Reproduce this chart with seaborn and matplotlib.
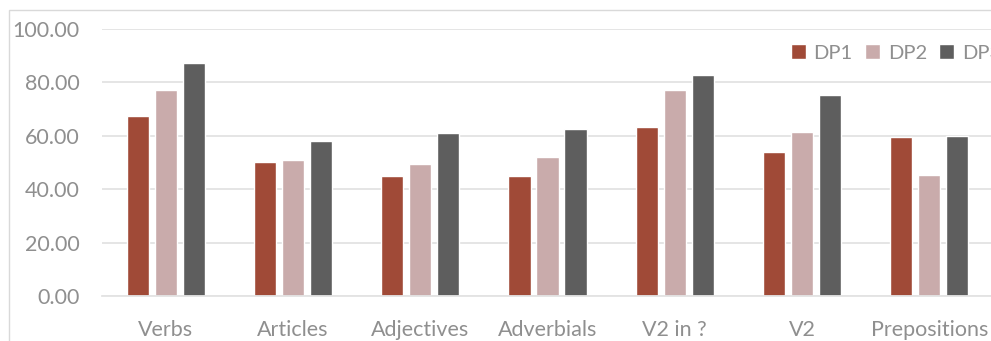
import matplotlib
matplotlib.use("Agg")
import matplotlib.pyplot as plt
from matplotlib.patches import Rectangle
from matplotlib.ticker import FormatStrFormatter
import pandas as pd
import seaborn as sns

categories = ["Verbs", "Articles", "Adjectives", "Adverbials", "V2 in ?", "V2", "Prepositions"]
dp1 = [67.4, 50.2, 45.1, 45.1, 63.4, 53.9, 59.7]
dp2 = [77.2, 50.9, 49.4, 51.9, 77.3, 61.4, 45.4]
dp3 = [87.4, 58.2, 60.9, 62.5, 82.7, 75.4, 59.9]
series_names = ["DP1", "DP2", "DP3"]
series_colors = ["#A04A37", "#C9ABAB", "#5E5E5E"]
y_ticks = [0, 20, 40, 60, 80, 100]

rows = []
for name, vals in zip(series_names, [dp1, dp2, dp3]):
    for cat, v in zip(categories, vals):
        rows.append({"category": cat, "series": name, "value": v})
df = pd.DataFrame(rows)

sns.set_theme(style="white")
plt.rcParams["font.family"] = ["Lato", "DejaVu Sans"]

text_color = "#8F8F8F"
grid_color = "#E3E3E3"
font_size = 15.5

W, H = 991, 341
fig = plt.figure(figsize=(W / 100, H / 100), dpi=100)
ax = fig.add_axes([102 / W, 45 / H, 891 / W, 267 / H])

sns.barplot(data=df, x="category", y="value", hue="series", order=categories,
            hue_order=series_names, palette=series_colors, width=0.66, gap=0.21,
            errorbar=None, saturation=1, ax=ax)

ax.set_ylim(0, 100)
ax.set_xlim(-0.5, len(categories) - 0.5)
ax.set_yticks(y_ticks)
ax.yaxis.set_major_formatter(FormatStrFormatter("%.2f"))
ax.grid(axis="y", color=grid_color, linewidth=1.3)
ax.set_axisbelow(True)
for s in ["top", "right", "left"]:
    ax.spines[s].set_visible(False)
ax.spines["bottom"].set_color(grid_color)
ax.spines["bottom"].set_linewidth(1.3)
ax.tick_params(axis="both", length=0, labelsize=font_size, colors=text_color)
ax.tick_params(axis="y", pad=16)
ax.tick_params(axis="x", pad=17)
ax.set_xlabel("")
ax.set_ylabel("")

handles, labels = ax.get_legend_handles_labels()
leg = ax.legend(handles, labels, loc="center left", bbox_to_anchor=(791 / W, 1 - 53 / H),
                bbox_transform=fig.transFigure, ncol=3, frameon=False, fontsize=14.5,
                handlelength=0.72, handleheight=0.72, handletextpad=0.4, columnspacing=0.62,
                borderpad=0, borderaxespad=0)
for t in leg.get_texts():
    t.set_color(text_color)

# outer chart frame
fig.patches.append(Rectangle((9 / W, -0.1), 1.2, 1 - 10 / H + 0.1, transform=fig.transFigure,
                             fill=False, edgecolor="#D9D9D9", linewidth=1.0))

fig.savefig("out.png", dpi=100)
